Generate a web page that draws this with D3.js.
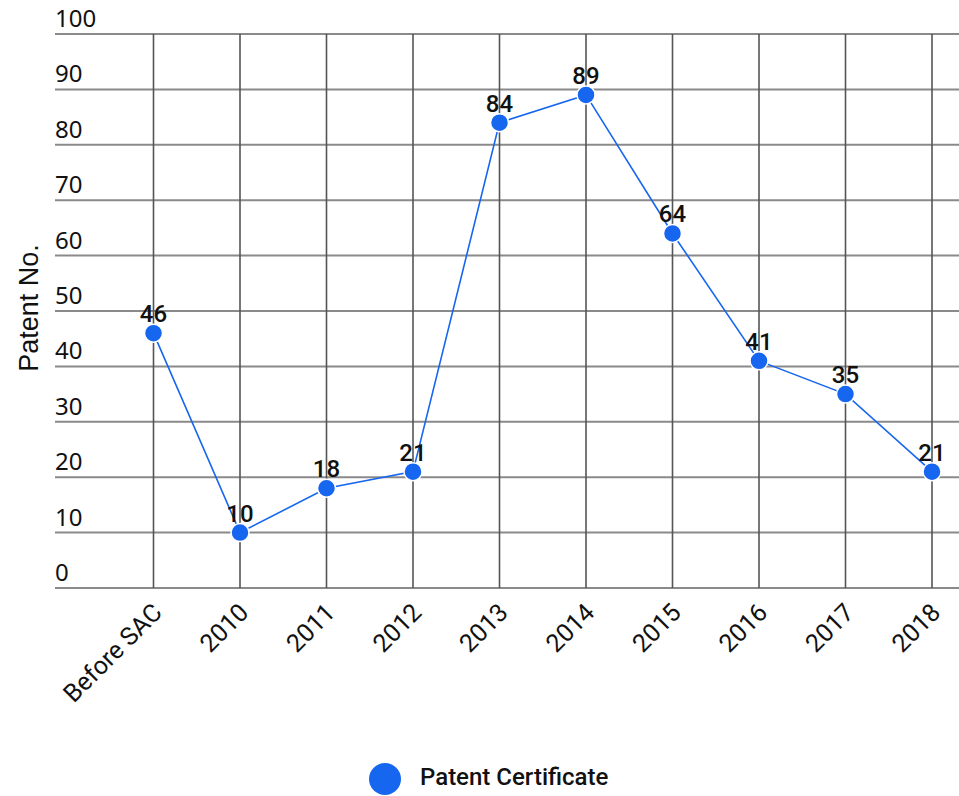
<!DOCTYPE html>
<html>
<head>
<meta charset="utf-8">
<script src="https://cdn.jsdelivr.net/npm/d3@7"></script>
<style>
  body { margin: 0; background: #fff; }
  text { font-family: Roboto, "Noto Sans", sans-serif; fill: #111; }
</style>
</head>
<body>
<svg id="chart" width="959" height="796"></svg>
<script>
// data
var categories = ["Before SAC", "2010", "2011", "2012", "2013", "2014", "2015", "2016", "2017", "2018"];
var patents = [46, 10, 18, 21, 84, 89, 64, 41, 35, 21];
var yTicks = [0, 10, 20, 30, 40, 50, 60, 70, 80, 90, 100];
var seriesName = "Patent Certificate";

var svg = d3.select("#chart");
var blue = "#1766ef";

var x = d3.scalePoint().domain(categories).range([153.5, 932]);
var y = d3.scaleLinear().domain([0, 100]).range([588, 34]);

// horizontal grid
svg.append("g").selectAll("line")
  .data(yTicks)
  .join("line")
  .attr("x1", 55).attr("x2", 959)
  .attr("y1", d => y(d)).attr("y2", d => y(d))
  .attr("stroke", "#8a8a8a").attr("stroke-width", 2);

// vertical grid
svg.append("g").selectAll("line")
  .data(categories)
  .join("line")
  .attr("x1", d => x(d)).attr("x2", d => x(d))
  .attr("y1", y(100)).attr("y2", y(0))
  .attr("stroke", "#555").attr("stroke-width", 1.6);

// y tick labels sit above their gridline
svg.append("g").selectAll("text")
  .data(yTicks)
  .join("text")
  .attr("x", 55)
  .attr("y", d => y(d) - 7)
  .style("font-family", "'Noto Sans', sans-serif")
  .attr("font-size", 24)
  .text(d => d);

// x labels, rotated
svg.append("g").selectAll("text")
  .data(categories)
  .join("text")
  .attr("transform", d => "translate(" + (x(d) + 10) + "," + 614 + ") rotate(-45)")
  .attr("text-anchor", "end")
  .attr("font-size", 25)
  .text(d => d);

// axis title (this one looks like arial in the original)
svg.append("text")
  .attr("transform", "translate(38,308) rotate(-90)")
  .attr("text-anchor", "middle")
  .style("font-family", "'Liberation Sans', Arial, sans-serif")
  .attr("font-size", 27)
  .text("Patent No.");

// line
var line = d3.line()
  .x((d, i) => x(categories[i]))
  .y(d => y(d));

svg.append("path")
  .datum(patents)
  .attr("d", line)
  .attr("fill", "none")
  .attr("stroke", blue)
  .attr("stroke-width", 1.6);

// points
svg.append("g").selectAll("circle")
  .data(patents)
  .join("circle")
  .attr("cx", (d, i) => x(categories[i]))
  .attr("cy", d => y(d))
  .attr("r", 9)
  .attr("fill", blue)
  .attr("stroke", "#fff")
  .attr("stroke-width", 1.5);

// value labels
svg.append("g").selectAll("text")
  .data(patents)
  .join("text")
  .attr("x", (d, i) => x(categories[i]))
  .attr("y", d => y(d) - 11)
  .attr("text-anchor", "middle")
  .attr("font-size", 24)
  .attr("font-weight", 500)
  .text(d => d);

// legend
svg.append("circle")
  .attr("cx", 385).attr("cy", 779).attr("r", 16)
  .attr("fill", blue);
svg.append("text")
  .attr("x", 420).attr("y", 785)
  .attr("font-size", 24)
  .attr("font-weight", 500)
  .text(seriesName);
</script>
</body>
</html>
